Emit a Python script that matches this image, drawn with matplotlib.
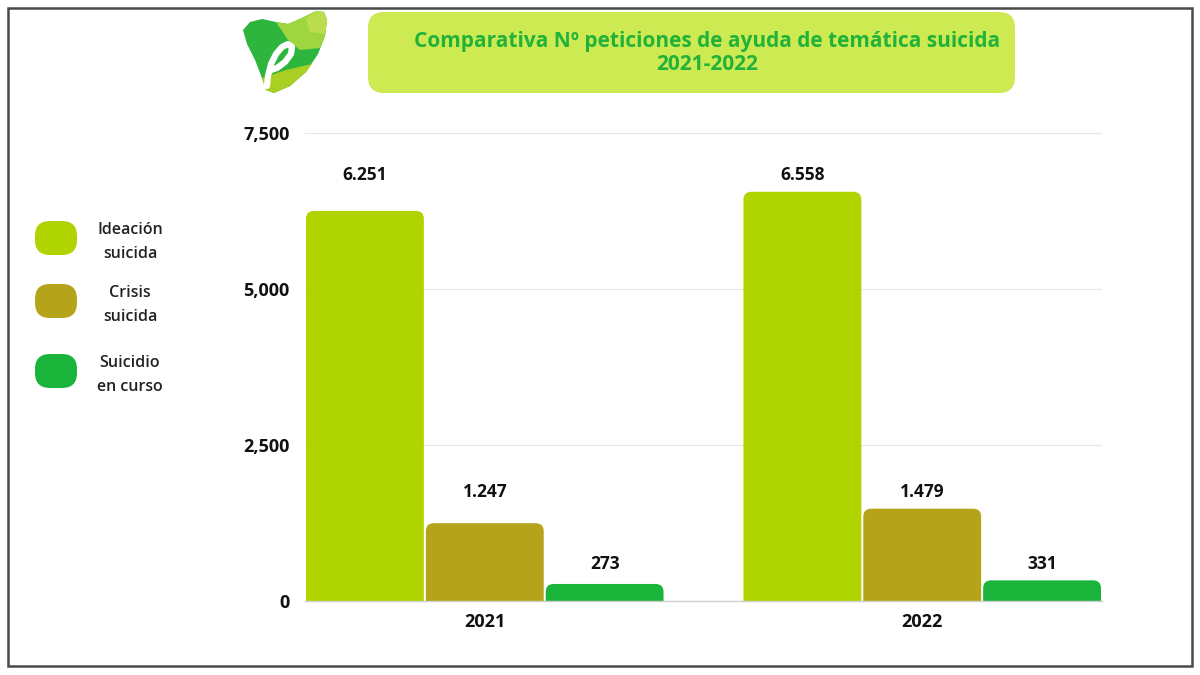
import matplotlib
matplotlib.use("Agg")
import matplotlib.pyplot as plt
from matplotlib.patches import FancyBboxPatch, Rectangle, Polygon, PathPatch
from matplotlib.path import Path
import numpy as np

plt.rcParams['font.family'] = ['Open Sans', 'DejaVu Sans']

years = ["2021", "2022"]
series_names = ["Ideación\nsuicida", "Crisis\nsuicida", "Suicidio\nen curso"]
values = {
    "Ideación\nsuicida": [6251, 6558],
    "Crisis\nsuicida": [1247, 1479],
    "Suicidio\nen curso": [273, 331],
}
value_labels = {
    "Ideación\nsuicida": ["6.251", "6.558"],
    "Crisis\nsuicida": ["1.247", "1.479"],
    "Suicidio\nen curso": ["273", "331"],
}
colors = ["#AFD400", "#B5A319", "#1BB43A"]
yticks = [0, 2500, 5000, 7500]
ytick_labels = ["0", "2,500", "5,000", "7,500"]
title = "Comparativa Nº peticiones de ayuda de temática suicida\n2021-2022"

W, H = 1200, 675
fig = plt.figure(figsize=(12, 6.75), dpi=100)
fig.patch.set_facecolor("white")

# overlay in pixel coords for decorations
ov = fig.add_axes([0, 0, 1, 1], zorder=0)
ov.set_xlim(0, W)
ov.set_ylim(H, 0)
ov.axis("off")

# frame
ov.add_patch(Rectangle((8, 8), 1184, 658, fill=False, edgecolor="#4a4a4a", lw=1.8))

# title box
ov.add_patch(FancyBboxPatch((368, 12), 647, 81, boxstyle="round,pad=0,rounding_size=16",
                            facecolor="#CDEA52", edgecolor="none"))
ov.text(707, 53, title, ha="center", va="center", fontsize=15, fontweight="bold",
        color="#22B23A", linespacing=1.08)

# logo (decorative)
outline = [(243, 30), (250, 22), (262, 19), (276, 22), (288, 24), (302, 18), (316, 11),
           (324, 12), (327, 20), (325, 36), (318, 54), (306, 72), (290, 86), (274, 93),
           (266, 90), (262, 78), (255, 60), (247, 44)]
ov.add_patch(Polygon(outline, closed=True, facecolor="#2DB53E", edgecolor="none"))
ov.add_patch(Polygon([(276, 22), (288, 24), (302, 18), (316, 11), (324, 12), (327, 20),
                      (325, 36), (320, 48), (300, 50), (288, 40)],
                     closed=True, facecolor="#9FD63F", edgecolor="none"))
ov.add_patch(Polygon([(306, 18), (316, 11), (324, 12), (327, 20), (325, 34), (310, 32)],
                     closed=True, facecolor="#B9DD4C", edgecolor="none"))
ov.add_patch(Polygon([(262, 78), (266, 90), (274, 93), (290, 86), (306, 72), (312, 64),
                      (286, 70)], closed=True, facecolor="#A9CF22", edgecolor="none"))
e_pts = np.array([(267, 86), (268, 76), (271, 64), (276, 54), (282, 47), (288, 44),
                  (292, 47), (291, 54), (285, 62), (277, 68), (271, 70)])
ov.plot(e_pts[:, 0], e_pts[:, 1], color="white", lw=4.5, solid_capstyle="round",
        solid_joinstyle="round")

# legend
leg_y = [238, 301, 371]
for name, c, yc in zip(series_names, colors, leg_y):
    ov.add_patch(FancyBboxPatch((35, yc - 17), 42, 34, boxstyle="round,pad=0,rounding_size=15",
                                facecolor=c, edgecolor="none"))
    ov.text(130, yc + 4, name, ha="center", va="center", fontsize=11.5, fontweight="semibold",
            color="#222222", linespacing=1.7)

# main axes
ax = fig.add_axes([305 / W, 1 - 601 / H, (1102 - 305) / W, (601 - 133) / H], zorder=1)
ax.patch.set_alpha(0)
x = np.arange(len(years))
bw = 120 / 438
xlim = (-1.5 * bw, 1 + 1.5 * bw)
ax.set_xlim(*xlim)
ax.set_ylim(0, 7500)

xu_per_px = (xlim[1] - xlim[0]) / 797
yu_per_px = 7500 / 468
rx, ry = 8 * xu_per_px, 8 * yu_per_px


def rounded_top(x0, x1, h):
    verts = [(x0, 0), (x0, h - ry), (x0, h), (x0 + rx, h), (x1 - rx, h), (x1, h),
             (x1, h - ry), (x1, 0), (x0, 0)]
    codes = [Path.MOVETO, Path.LINETO, Path.CURVE3, Path.CURVE3, Path.LINETO,
             Path.CURVE3, Path.CURVE3, Path.LINETO, Path.CLOSEPOLY]
    return Path(verts, codes)


for i, (name, c) in enumerate(zip(series_names, colors)):
    vals = values[name]
    bars = ax.bar(x + (i - 1) * bw, vals, width=bw, color=c, edgecolor="none", zorder=2)
    for b in bars:
        bx, bwid, bh = b.get_x(), b.get_width(), b.get_height()
        b.set_visible(False)
        gap = 1 * xu_per_px
        ax.add_patch(PathPatch(rounded_top(bx + gap, bx + bwid - gap, bh), facecolor=c,
                               edgecolor="none", zorder=2))
    top = max(vals)
    for xi, lab in zip(x, value_labels[name]):
        ax.annotate(lab, (xi + (i - 1) * bw, top), xytext=(0, 12), textcoords="offset points",
                    ha="center", va="center", fontsize=12.5, fontweight="bold", color="#111111")

ax.set_yticks(yticks)
ax.set_yticklabels(ytick_labels, fontsize=13, fontweight="bold", color="#111111")
ax.set_xticks(x)
ax.set_xticklabels(years, fontsize=13, fontweight="bold", color="#111111")
ax.tick_params(axis="y", length=0, pad=11)
ax.tick_params(axis="x", length=0, pad=8.5)
ax.grid(axis="y", color="#e6e6e6", lw=0.8, zorder=0)
ax.set_axisbelow(True)
for s in ["top", "right", "left"]:
    ax.spines[s].set_visible(False)
ax.spines["bottom"].set_color("#cfcfcf")
ax.spines["bottom"].set_linewidth(1)

fig.savefig("out.png", dpi=100, facecolor="white")
